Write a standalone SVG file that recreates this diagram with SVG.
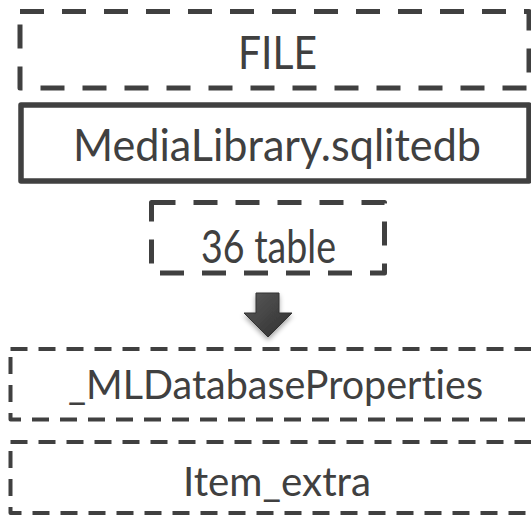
<svg xmlns="http://www.w3.org/2000/svg" width="531" height="515" viewBox="0 0 531 515">
  <style>
    .box { fill: none; stroke: #404040; stroke-linejoin: round; }
    .big { stroke-width: 5; stroke-dasharray: 24 18; }
    .solid { stroke-width: 5.5; }
    .small { stroke-width: 4; stroke-dasharray: 17 11; }
    .lbl { font-family: "Lato", "Open Sans", "Liberation Sans", sans-serif; fill: #404040; text-anchor: middle; font-variant-ligatures: none; }
  </style>
  <defs>
    <linearGradient id="arrowGrad" x1="0" y1="0" x2="1" y2="1">
      <stop offset="0" stop-color="#5a5a5a"/>
      <stop offset="1" stop-color="#2e2e2e"/>
    </linearGradient>
    <filter id="shadow" x="-50%" y="-50%" width="200%" height="200%">
      <feDropShadow dx="0" dy="3" stdDeviation="2.5" flood-color="#000" flood-opacity="0.35"/>
    </filter>
  </defs>
  <rect width="531" height="515" fill="#ffffff"/>

  <g id="node-file">
    <rect class="box big" x="20" y="11.5" width="509" height="76.5"/>
    <text class="lbl" x="277.5" y="69" font-size="47" textLength="79" lengthAdjust="spacingAndGlyphs">FILE</text>
  </g>

  <g id="node-medialibrary">
    <rect class="box solid" x="21" y="105" width="508" height="76"/>
    <text class="lbl" x="277" y="161" font-size="44" textLength="408" lengthAdjust="spacingAndGlyphs">MediaLibrary.sqlitedb</text>
  </g>

  <g id="node-tables">
    <rect class="box big" x="151.5" y="202.5" width="233" height="70.5"/>
    <text class="lbl" x="268.5" y="263" font-size="46" textLength="135" lengthAdjust="spacingAndGlyphs">36 table</text>
  </g>

  <g id="connectors">
    <polygon points="256,293 279,293 279,313 292,313 268,337 244,313 256,313" fill="url(#arrowGrad)" stroke="#333" stroke-width="1" filter="url(#shadow)"/>
  </g>

  <g id="node-mldbprops">
    <rect class="box small" x="10.5" y="349" width="530" height="70.5"/>
    <text class="lbl" x="275.5" y="399" font-size="40" textLength="415" lengthAdjust="spacingAndGlyphs">_MLDatabaseProperties</text>
  </g>

  <g id="node-itemextra">
    <rect class="box small" x="10.5" y="442" width="530" height="71"/>
    <text class="lbl" x="277" y="496" font-size="40" textLength="188" lengthAdjust="spacingAndGlyphs">Item_extra</text>
  </g>
</svg>
